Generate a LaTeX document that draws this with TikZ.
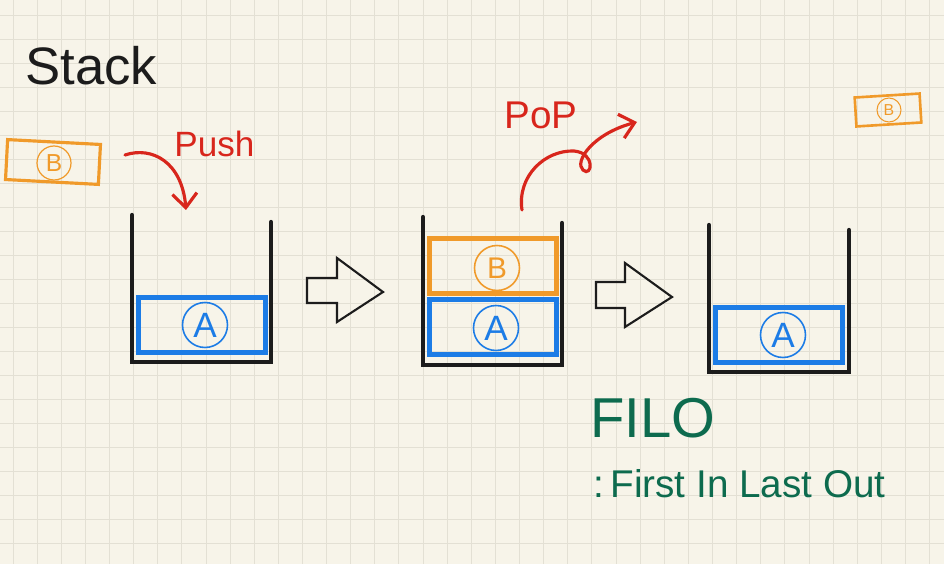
\documentclass[tikz,border=0pt]{standalone}
\usepackage{fontspec}
\setmainfont{Liberation Sans}
\usetikzlibrary{arrows.meta, positioning}
\definecolor{cpaper}{HTML}{F7F4E9}
\definecolor{cgrid}{HTML}{E3E0D4}
\definecolor{cink}{HTML}{1C1C1C}
\definecolor{cred}{HTML}{D8261C}
\definecolor{cblue}{HTML}{1C7CE6}
\definecolor{corange}{HTML}{F09A2A}
\definecolor{cgreen}{HTML}{0D6B4E}

\begin{document}
\begin{tikzpicture}[x=0.02cm, y=-0.02cm,
  gridline/.style={draw=cgrid, line width=0.5pt},
  card/.style={draw=#1, line width=2.6pt, minimum width=2.54cm,
               minimum height=1.1cm, inner sep=0pt},
  token/.style={circle, draw=#1, line width=0.9pt, text=#1,
                minimum size=0.9cm, inner sep=0pt,
                font=\fontsize{20}{20}\selectfont},
  wall/.style={draw=cink, line width=2.4pt, line cap=round},
  hollow/.style={draw=cink, line width=1.2pt},
  pen/.style={draw=cred, line width=1.8pt, line cap=round,
              -{Straight Barb[length=8pt, width=14pt]}},
  hand/.style={font=\fontsize{#1}{#1}\selectfont, inner sep=0pt, anchor=west}
]

%% Paper
\useasboundingbox (0,0) rectangle (944,564);
\fill[cpaper] (0,0) rectangle (944,564);
\foreach \i in {0,...,38}
  \draw[gridline] ({13+24.12*\i},0) -- ({13+24.12*\i},564);
\foreach \j in {0,...,23}
  \draw[gridline] (0,{15+24*\j}) -- (944,{15+24*\j});

%% Titles
\node[hand=30, text=cink]   (title) at (25,66)  {Stack};
\node[hand=20, text=cred]   (push)  at (174,144) {Push};
\node[hand=22, text=cred]   (pop)   at (504,115) {PoP};
\node[hand=32, text=cgreen] (filo)  at (590,418) {FILO};
\node[hand=22, text=cgreen] (rule)  at (593,484) {:\,First In Last Out};

%% Loose B cards
\node[card=corange, line width=1.8pt, minimum width=1.86cm, minimum height=0.8cm,
      rotate=-3] (bleft) at (53,162) {};
\node[token=corange, line width=0.7pt, minimum size=0.68cm,
      font=\fontsize{14}{14}\selectfont] (bleftc) at (54,163) {B};
\node[card=corange, line width=1.5pt, minimum width=1.3cm, minimum height=0.58cm,
      rotate=3.5] (bright) at (888,110) {};
\node[token=corange, line width=0.6pt, minimum size=0.48cm,
      font=\fontsize{9}{9}\selectfont] (brightc) at (889,110) {B};

%% Stacks
\draw[wall] (132,215) -- (132,362) -- (271,362) -- (271,222);
\draw[wall] (423,217) -- (423,365) -- (562,365) -- (562,223);
\draw[wall] (709,225) -- (709,372) -- (849,372) -- (849,230);

%% Cards in the stacks
\node[card=cblue]   (a1) at (202,325)   {};
\node[token=cblue]  (a1c) at (205,325)  {A};
\node[card=corange] (b2) at (493,266)   {};
\node[token=corange, font=\fontsize{17}{17}\selectfont] (b2c) at (497,268) {B};
\node[card=cblue]   (a2) at (493,327)   {};
\node[token=cblue]  (a2c) at (496,328)  {A};
\node[card=cblue]   (a3) at (779,335)   {};
\node[token=cblue]  (a3c) at (783,335)  {A};

%% Hollow arrows between stacks
\draw[hollow] (307,278) -- (337,278) -- (337,258) -- (383,292)
  -- (337,322) -- (337,303) -- (307,303) -- cycle;
\draw[hollow] (596,282) -- (625,282) -- (625,263) -- (672,297)
  -- (625,327) -- (625,308) -- (596,308) -- cycle;

%% Push and pop strokes
\coordinate (pushfrom) at (125,155);
\coordinate (pushto)   at (186,210);
\coordinate (popfrom)  at (522,210);
\coordinate (popto)    at (637,122);
\draw[pen] (pushfrom) .. controls (152,146) and (182,162) .. (pushto);
\draw[pen] (popfrom) .. controls (517,176) and (545,150) .. (574,151)
  .. controls (596,153) and (592,178) .. (583,170)
  .. controls (574,162) and (592,134) .. (popto);

\end{tikzpicture}
\end{document}
